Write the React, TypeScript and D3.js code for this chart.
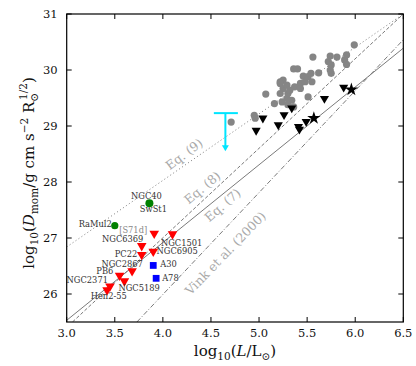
import * as d3 from 'd3';

const W = 416;
const H = 366;
const margin = { top: 14, right: 12.7, bottom: 44, left: 66.7 };

// log10(L/Lsun), log10(D_mom)
const grayStars: [number, number][] = [
  [4.71, 29.07], [4.95, 29.19], [4.96, 29.14], [5.07, 29.57], [5.16, 29.40],
  [5.22, 29.79], [5.25, 29.82], [5.22, 29.76], [5.25, 29.67], [5.22, 29.58],
  [5.30, 29.58], [5.29, 29.49], [5.34, 29.46], [5.24, 29.43], [5.30, 29.38],
  [5.36, 29.34], [5.29, 29.73], [5.32, 29.64], [5.36, 30.02], [5.40, 30.02],
  [5.37, 29.70], [5.43, 29.76], [5.43, 29.67], [5.46, 29.89], [5.48, 29.79],
  [5.51, 29.88], [5.54, 29.94], [5.55, 29.79], [5.51, 29.52], [5.56, 30.23],
  [5.62, 29.95], [5.72, 30.15], [5.74, 30.25], [5.75, 30.09], [5.74, 30.00],
  [5.75, 29.94], [5.81, 30.23], [5.89, 30.18], [5.91, 30.27], [5.91, 30.10],
  [5.99, 30.45],
];

const blackTriangles: [number, number][] = [
  [4.97, 28.92], [5.04, 29.14], [5.20, 29.02], [5.26, 29.20], [5.34, 29.32],
  [5.41, 28.99], [5.42, 28.94], [5.49, 29.08], [5.68, 29.49], [5.88, 29.69],
];

const blackStars: [number, number][] = [[5.57, 29.14], [5.96, 29.65]];

const redNames = ['[S71d]', 'NGC1501', 'NGC6369', 'PC22', 'NGC6905', 'NGC2867', 'PB6', 'NGC5189', 'NGC2371', 'Hen2-55'];
const redL = [3.91, 4.10, 3.78, 3.78, 3.90, 3.68, 3.55, 3.60, 3.45, 3.42];
const redD = [27.08, 27.07, 26.86, 26.70, 26.76, 26.41, 26.33, 26.23, 26.14, 26.07];

const blueNames = ['A30', 'A78'];
const blueL = [3.90, 3.93];
const blueD = [26.51, 26.28];

const greenNames = ['NGC40', 'RaMul2'];
const greenL = [3.86, 3.50];
const greenD = [27.62, 27.22];

// upper limit (cyan)
const limitL = 4.65;
const limitLRange = [4.53, 4.78];
const limitD = [29.23, 28.55];

// relations: endpoints in (logL, logD)
const relNames = ['Eq. (9)', 'Eq. (8)', 'Eq. (7)', 'Vink et al. (2000)'];
const relStart: [number, number][] = [[3.0, 26.84], [3.06, 25.5], [3.0, 25.53], [3.73, 25.5]];
const relEnd: [number, number][] = [[6.5, 31.0], [6.5, 31.0], [6.5, 30.39], [6.5, 30.54]];

// label placement (layout only)
const relLabelAt: [number, number][] = [[4.22, 28.5], [4.41, 27.9], [4.62, 27.59], [4.65, 26.73]];
const relLabelAngle = [-37, -40, -41, -46];
const relDash = ['1,2.6', '3.5,2', null, '5,2,1,2'];

const labelLayout: Record<string, { dx: number; dy: number; anchor: string; color?: string }> = {
  '[S71d]': { dx: -7, dy: -1, anchor: 'end', color: '#888' },
  NGC1501: { dx: -11.5, dy: 11.7, anchor: 'start' },
  NGC6369: { dx: -19, dy: -3.5, anchor: 'middle' },
  PC22: { dx: -4.5, dy: 2.5, anchor: 'end' },
  NGC6905: { dx: 3.3, dy: 2.5, anchor: 'start' },
  NGC2867: { dx: -10, dy: -3.7, anchor: 'middle' },
  PB6: { dx: -6.3, dy: -1.2, anchor: 'end' },
  NGC5189: { dx: -6, dy: 10, anchor: 'start' },
  NGC2371: { dx: -2, dy: -3, anchor: 'end' },
  'Hen2-55': { dx: 1.7, dy: 9.2, anchor: 'middle' },
  A30: { dx: 7, dy: 2, anchor: 'start' },
  A78: { dx: 6, dy: 2.7, anchor: 'start' },
  NGC40: { dx: -3, dy: -4, anchor: 'middle' },
  RaMul2: { dx: -3, dy: 1.5, anchor: 'end' },
};

const FONT = "'DejaVu Serif', 'Liberation Serif', serif";

export default function App() {
  const x = d3.scaleLinear().domain([3.0, 6.5]).range([margin.left, W - margin.right]);
  const y = d3.scaleLinear().domain([25.5, 31]).range([H - margin.bottom, margin.top]);
  const [x0, x1] = x.range();
  const [y0, y1] = y.range();

  const tri = d3.symbol().type(d3.symbolTriangle);
  const star = d3.symbol().type(d3.symbolStar).size(55)();
  const square = d3.symbol().type(d3.symbolSquare).size(46)();
  const line = d3.line();

  const xTicks = x.ticks(7);
  const yTicks = y.ticks(6);
  const tickLen = 5;

  const labelText = (name: string, px: number, py: number) => {
    const l = labelLayout[name];
    return (
      <text key={'t' + name} x={px + l.dx} y={py + l.dy} textAnchor={l.anchor}
        fontSize={8.3} fill={l.color || '#333'}>{name}</text>
    );
  };

  return (
    <svg width={W} height={H} style={{ position: 'absolute', left: 0, top: 0, background: '#fff', fontFamily: FONT }}>
      <defs>
        <clipPath id="plot">
          <rect x={x0} y={y1} width={x1 - x0} height={y0 - y1} />
        </clipPath>
      </defs>

      <g clipPath="url(#plot)">
        {relNames.map((n, i) => (
          <path key={n}
            d={line([[x(relStart[i][0]), y(relStart[i][1])], [x(relEnd[i][0]), y(relEnd[i][1])]]) || ''}
            stroke="#7a7a7a" strokeWidth={1} fill="none"
            strokeDasharray={relDash[i] || undefined} />
        ))}
      </g>

      {relNames.map((n, i) => (
        <text key={'lab' + n} x={x(relLabelAt[i][0])} y={y(relLabelAt[i][1])}
          transform={`rotate(${relLabelAngle[i]},${x(relLabelAt[i][0])},${y(relLabelAt[i][1])})`}
          textAnchor="middle" dominantBaseline="central" fontSize={12.5} fill="#aaa">{n}</text>
      ))}

      {/* cyan upper limit */}
      <g stroke="#00e5ff" strokeWidth={2} fill="none">
        <line x1={x(limitLRange[0])} x2={x(limitLRange[1])} y1={y(limitD[0])} y2={y(limitD[0])} />
        <line x1={x(limitL)} x2={x(limitL)} y1={y(limitD[0])} y2={y(limitD[1]) - 5} />
      </g>
      <path d={`M${x(limitL) - 3.5},${y(limitD[1]) - 6}L${x(limitL) + 3.5},${y(limitD[1]) - 6}L${x(limitL)},${y(limitD[1])}Z`}
        fill="#00e5ff" />

      {grayStars.map((d, i) => (
        <circle key={'g' + i} cx={x(d[0])} cy={y(d[1])} r={3.6} fill="#858585" />
      ))}

      {blackTriangles.map((d, i) => (
        <path key={'b' + i} d={tri.size(36)() || ''}
          transform={`translate(${x(d[0])},${y(d[1])}) rotate(180)`} fill="#000" />
      ))}
      {blackStars.map((d, i) => (
        <path key={'s' + i} d={star || ''} transform={`translate(${x(d[0])},${y(d[1])})`} fill="#000" />
      ))}

      {redNames.map((n, i) => (
        <path key={'r' + n} d={tri.size(40)() || ''}
          transform={`translate(${x(redL[i])},${y(redD[i])}) rotate(180)`} fill="#ff0000" />
      ))}
      {blueNames.map((n, i) => (
        <path key={'q' + n} d={square || ''} transform={`translate(${x(blueL[i])},${y(blueD[i])})`} fill="#0000ff" />
      ))}
      {greenNames.map((n, i) => (
        <circle key={'c' + n} cx={x(greenL[i])} cy={y(greenD[i])} r={i === 0 ? 4 : 3.6} fill="#008000" />
      ))}

      {redNames.map((n, i) => labelText(n, x(redL[i]), y(redD[i])))}
      {blueNames.map((n, i) => labelText(n, x(blueL[i]), y(blueD[i])))}
      {greenNames.map((n, i) => labelText(n, x(greenL[i]), y(greenD[i])))}
      <text x={x(greenL[0]) + 4} y={y(greenD[0]) + 9} textAnchor="middle" fontSize={8.3} fill="#333">SwSt1</text>

      {/* frame and ticks */}
      <rect x={x0} y={y1} width={x1 - x0} height={y0 - y1} fill="none" stroke="#000" strokeWidth={1.2} />
      {xTicks.map(t => (
        <g key={'xt' + t}>
          <line x1={x(t)} x2={x(t)} y1={y0} y2={y0 - tickLen} stroke="#000" />
          <line x1={x(t)} x2={x(t)} y1={y1} y2={y1 + tickLen} stroke="#000" />
          <text x={x(t)} y={y0 + 15} textAnchor="middle" fontSize={11.5} fill="#111">{d3.format('.1f')(t)}</text>
        </g>
      ))}
      {yTicks.map(t => (
        <g key={'yt' + t}>
          <line x1={x0} x2={x0 + tickLen} y1={y(t)} y2={y(t)} stroke="#000" />
          <line x1={x1} x2={x1 - tickLen} y1={y(t)} y2={y(t)} stroke="#000" />
          <text x={x0 - 9} y={y(t)} dy="0.35em" textAnchor="end" fontSize={11.5} fill="#111">{t}</text>
        </g>
      ))}

      {/* axis titles */}
      <text x={(x0 + x1) / 2} y={356} textAnchor="middle" fontSize={15} fill="#111">
        log<tspan fontSize={10.5} dy={4}>10</tspan>
        <tspan dy={-4}>(</tspan><tspan fontStyle="italic">L</tspan>/L<tspan fontSize={10.5} dy={4}>⊙</tspan>
        <tspan dy={-4}>)</tspan>
      </text>
      <text transform={`translate(34,${(y0 + y1) / 2 + 5}) rotate(-90)`} textAnchor="middle" fontSize={15} fill="#111">
        log<tspan fontSize={10.5} dy={4}>10</tspan>
        <tspan dy={-4}>(</tspan><tspan fontStyle="italic">D</tspan>
        <tspan fontSize={10.5} dy={4}>mom</tspan>
        <tspan dy={-4}>/g cm s</tspan>
        <tspan fontSize={10.5} dy={-6}>−2</tspan>
        <tspan dy={6}> R</tspan>
        <tspan fontSize={10.5} dy={4}>⊙</tspan>
        <tspan fontSize={10.5} dx={-7} dy={-11}>1/2</tspan>
        <tspan dy={7}>)</tspan>
      </text>
    </svg>
  );
}
